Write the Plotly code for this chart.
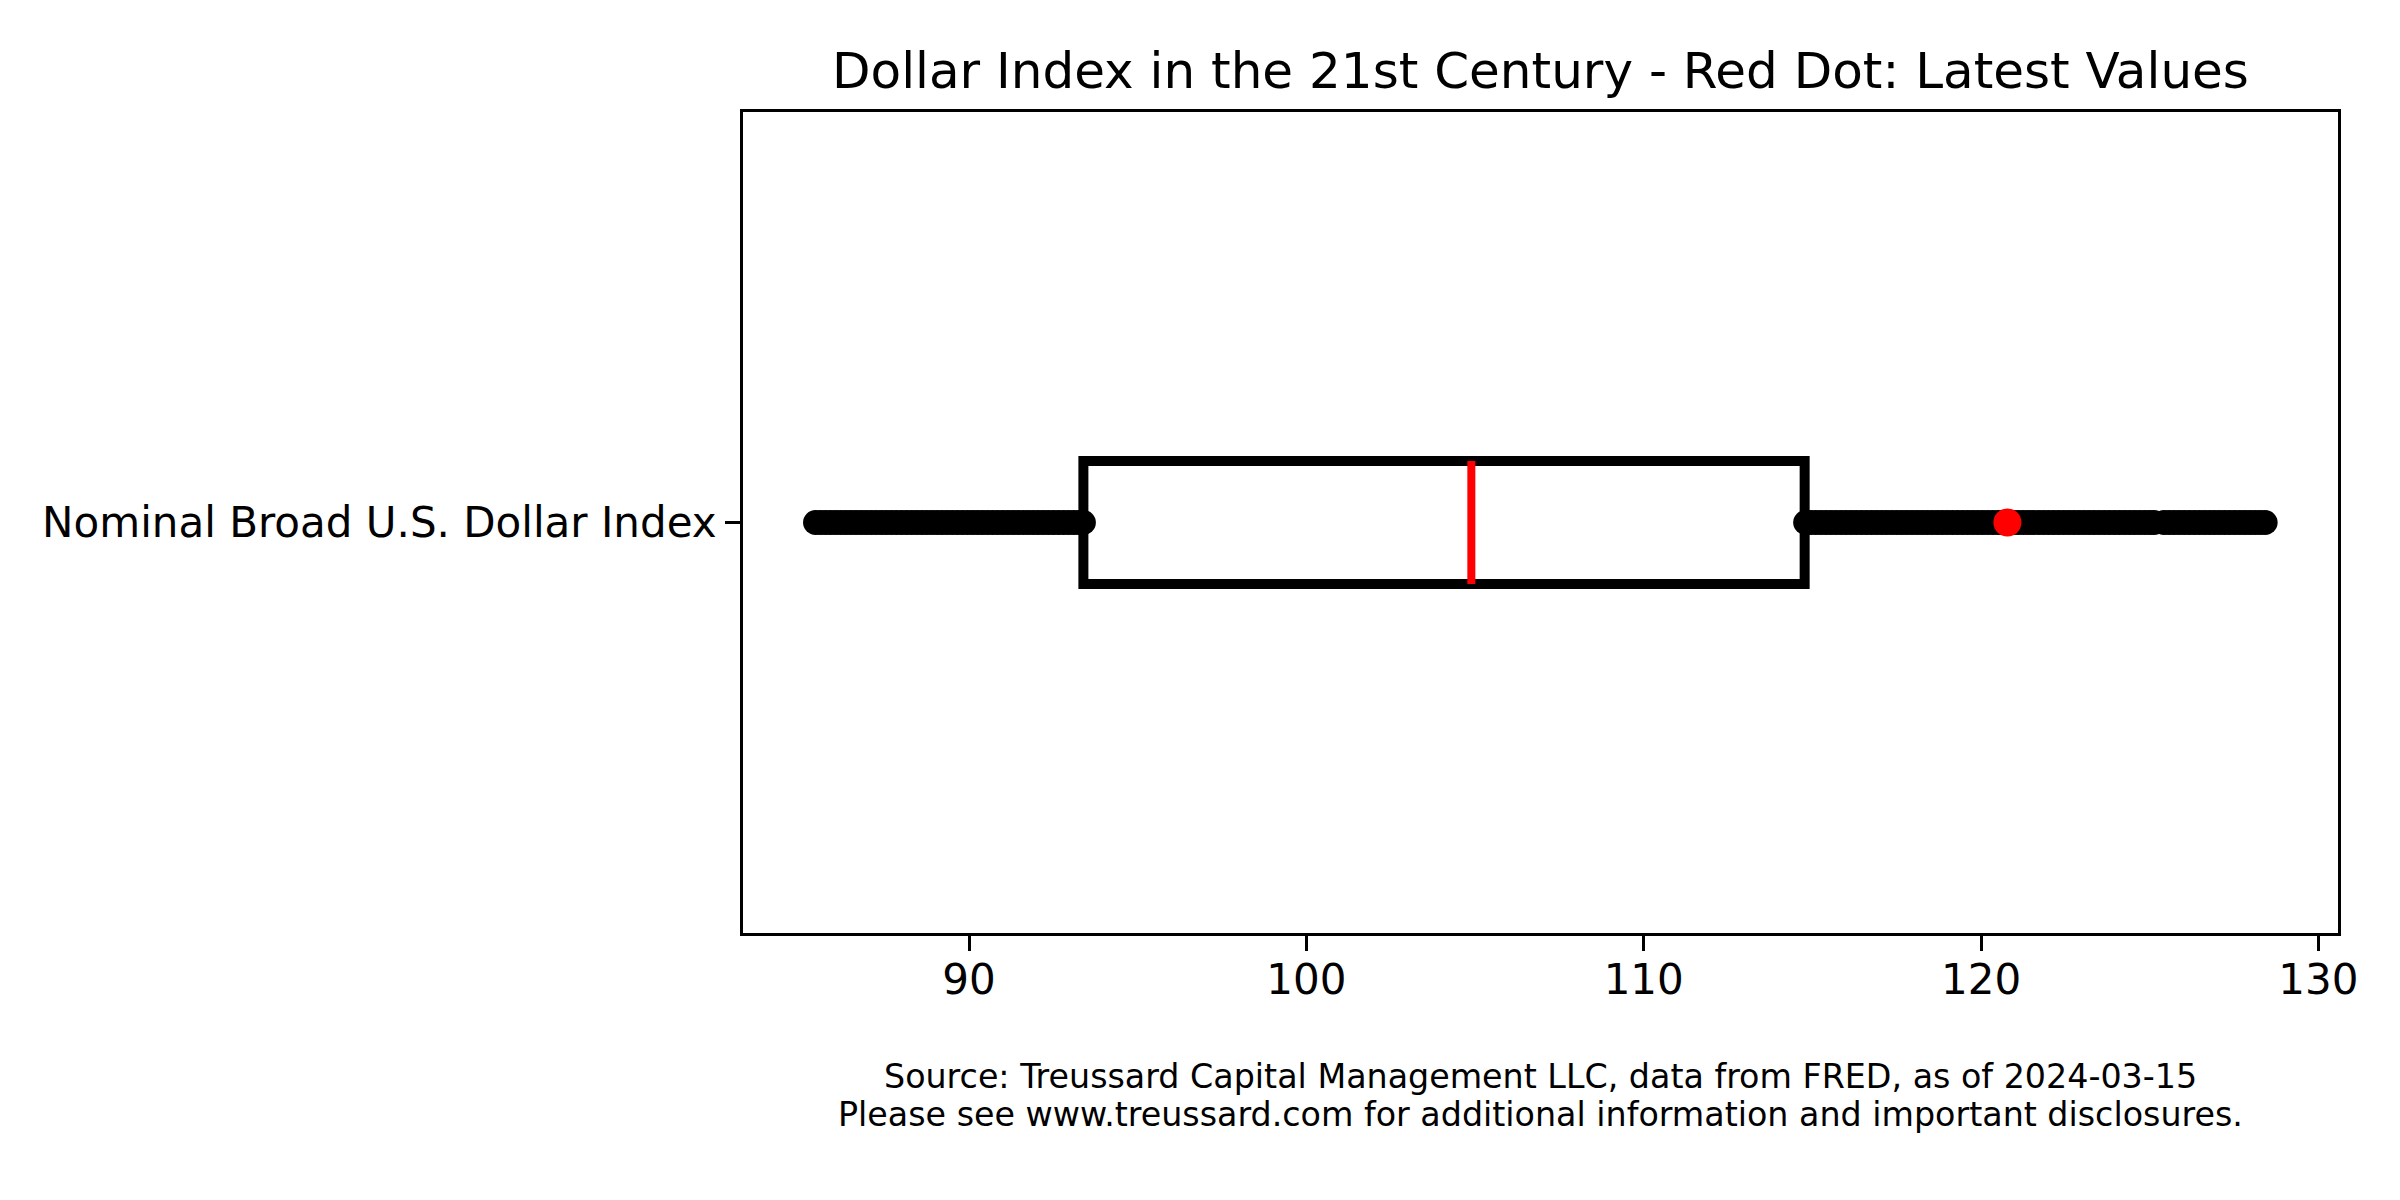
import plotly.graph_objects as go

# ---- data ----
category = ["Nominal Broad U.S. Dollar Index"]
q1 = [93.39]
median = [104.89]
q3 = [114.77]
latest = [120.78]
fliers_low = [85.45, 85.60, 85.75, 85.90, 86.05, 86.20, 86.35, 86.50, 86.65, 86.80,
              86.95, 87.10, 87.25, 87.40, 87.55, 87.70, 87.85, 88.00, 88.15, 88.30,
              88.45, 88.60, 88.75, 88.90, 89.05, 89.20, 89.35, 89.50, 89.65, 89.80,
              89.95, 90.10, 90.25, 90.40, 90.55, 90.70, 90.85, 91.00, 91.15, 91.30,
              91.45, 91.60, 91.75, 91.90, 92.05, 92.20, 92.35, 92.50, 92.65, 92.80,
              92.95, 93.10, 93.25, 93.39]
fliers_high = [114.80, 114.95, 115.10, 115.25, 115.40, 115.55, 115.70, 115.85, 116.00,
               116.15, 116.30, 116.45, 116.60, 116.75, 116.90, 117.05, 117.20, 117.35,
               117.50, 117.65, 117.80, 117.95, 118.10, 118.25, 118.40, 118.55, 118.70,
               118.85, 119.00, 119.15, 119.30, 119.45, 119.60, 119.75, 119.90, 120.05,
               120.20, 120.35, 120.50, 120.65, 120.80, 120.95, 121.10, 121.25, 121.40,
               121.55, 121.70, 121.85, 122.00, 122.15, 122.30, 122.45, 122.60, 122.75,
               122.90, 123.05, 123.20, 123.35, 123.50, 123.65, 123.80, 123.95, 124.10,
               124.25, 124.40, 124.55, 124.70, 124.85, 125.00, 125.13, 125.42, 125.57,
               125.72, 125.87, 126.02, 126.17, 126.32, 126.47, 126.62, 126.77, 126.92,
               127.07, 127.22, 127.37, 127.52, 127.67, 127.82, 127.97, 128.12, 128.27,
               128.42]
x_ticks = [90, 100, 110, 120, 130]
title = "Dollar Index in the 21st Century - Red Dot: Latest Values"
footer1 = "Source: Treussard Capital Management LLC, data from FRED, as of 2024-03-15"
footer2 = "Please see www.treussard.com for additional information and important disclosures."

FONT = "DejaVu Sans"
pos = 1.0
half = 0.075  # half box width (data units)

fig = go.Figure()

fliers = fliers_low + fliers_high
fig.add_trace(go.Scatter(
    x=fliers, y=[pos] * len(fliers), mode="markers",
    marker=dict(color="black", size=25, line=dict(width=0)),
    showlegend=False, hoverinfo="skip"))

# box outline (last segment repeated so every corner is joined)
bx = [q1[0], q3[0], q3[0], q1[0], q1[0], q3[0]]
by = [pos - half, pos - half, pos + half, pos + half, pos - half, pos - half]
fig.add_trace(go.Scatter(
    x=bx, y=by, mode="lines",
    line=dict(color="black", width=10),
    showlegend=False, hoverinfo="skip"))

# median
fig.add_trace(go.Scatter(
    x=[median[0], median[0]], y=[pos - half, pos + half], mode="lines",
    line=dict(color="red", width=8),
    showlegend=False, hoverinfo="skip"))

# latest value
fig.add_trace(go.Scatter(
    x=latest, y=[pos], mode="markers",
    marker=dict(color="red", size=28, line=dict(width=0)),
    showlegend=False, hoverinfo="skip"))

W, H = 2392, 1192  # page body has an 8px margin

fig.update_layout(
    width=W, height=H,
    margin=dict(l=735, r=62, t=104, b=267, autoexpand=False),
    paper_bgcolor="white", plot_bgcolor="white",
    font=dict(family=FONT, color="black", size=42),
    title=dict(text=title, xref="paper", x=0.5, xanchor="center",
               y=1 - 62 / H, yanchor="middle",
               font=dict(family=FONT, size=50, color="black")),
    xaxis=dict(range=[83.3, 130.58], tickvals=x_ticks, ticktext=[str(v) for v in x_ticks],
               showgrid=False, zeroline=False, showline=True, mirror=True,
               linecolor="black", linewidth=3, ticks="outside", ticklen=15,
               tickwidth=3, tickcolor="black", ticklabelstandoff=-7,
               tickfont=dict(size=42, color="black")),
    yaxis=dict(range=[0.5, 1.5], tickvals=[pos], ticktext=category,
               showgrid=False, zeroline=False, showline=True, mirror=True,
               linecolor="black", linewidth=3, ticks="outside", ticklen=15,
               tickwidth=3, tickcolor="black", tickfont=dict(size=42, color="black")),
    annotations=[
        dict(text=footer1, xref="paper", yref="paper", x=0.5, y=(933 - 1076) / 821,
             xanchor="center", yanchor="middle", showarrow=False,
             font=dict(family=FONT, size=33.3, color="black")),
        dict(text=footer2, xref="paper", yref="paper", x=0.5, y=(933 - 1114) / 821,
             xanchor="center", yanchor="middle", showarrow=False,
             font=dict(family=FONT, size=33.3, color="black")),
    ],
)

fig.write_html("out.html")
